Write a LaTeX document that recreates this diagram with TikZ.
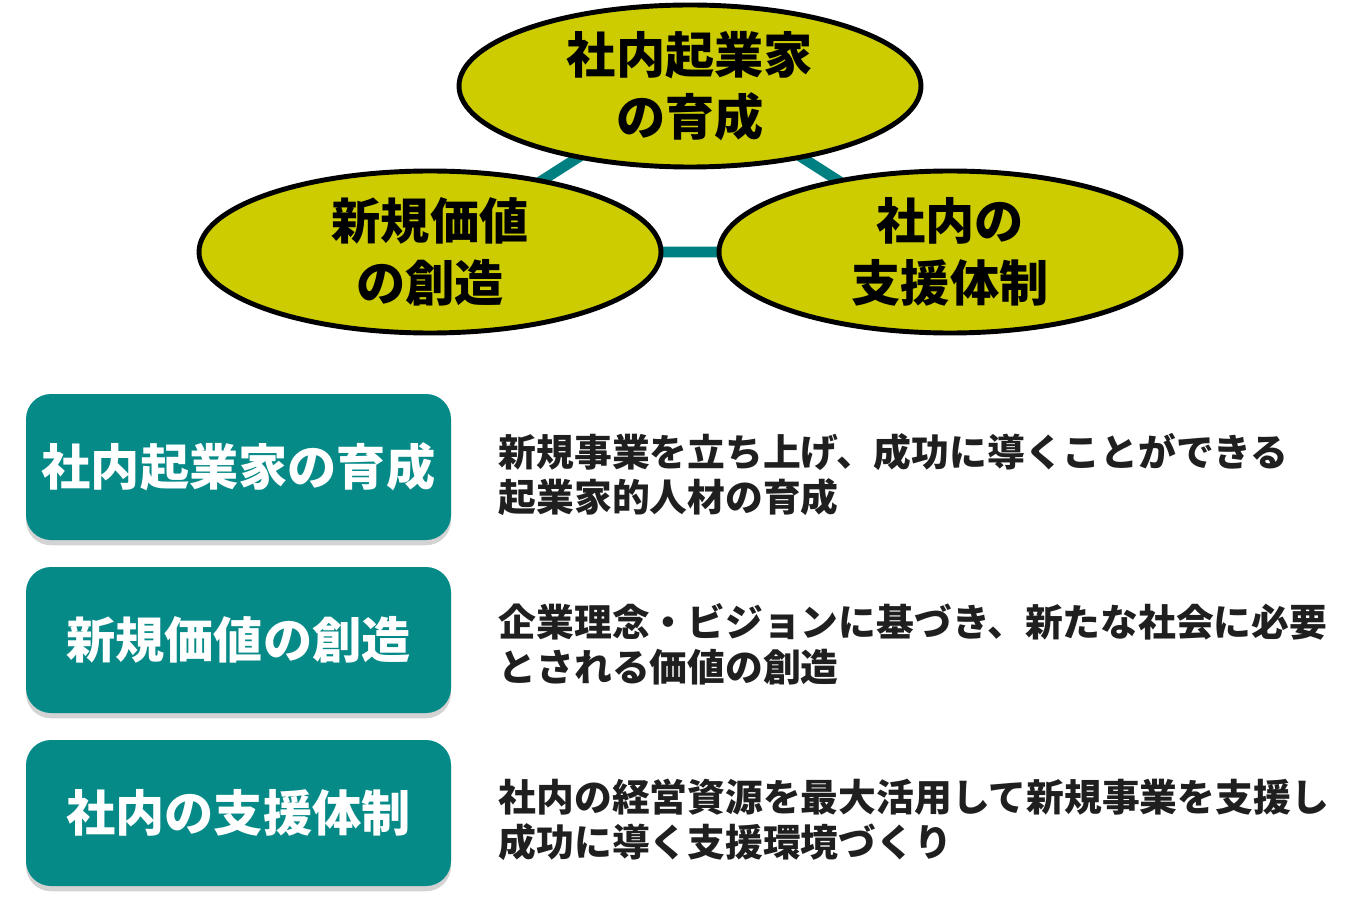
\documentclass[tikz,border=0pt]{standalone}
\usepackage{fontspec}
\setmainfont{Noto Sans CJK JP}
\usetikzlibrary{shapes.geometric,shadows,backgrounds}
\definecolor{olive}{HTML}{CCCC00}
\definecolor{tealbox}{HTML}{068A88}
\definecolor{tealline}{HTML}{008080}
\begin{document}
\begin{tikzpicture}[
  goal/.style={ellipse,draw=black,line width=2.8pt,fill=olive,minimum width=9.24cm,minimum height=3.24cm,inner sep=0pt,align=center,font=\fontsize{28}{35}\selectfont\bfseries},
  tag/.style={rounded corners=0.5cm,fill=tealbox,text=white,minimum width=8.5cm,minimum height=2.92cm,drop shadow={shadow xshift=0pt,shadow yshift=-3pt,opacity=0.35},font=\fontsize{28}{33}\selectfont\bfseries},
  desc/.style={anchor=west,align=left,text=black!88,font=\fontsize{21.5}{25.5}\selectfont\bfseries}
]
\useasboundingbox (0,0) rectangle (27.14,18);
%\draw[step=1cm,gray,very thin] (0,0) grid (27,18); %background grid
% three ellipses
\node[goal] (ikusei) at (13.8,16.28) {社内起業家\\の育成};
\node[goal] (souzou) at (8.6,12.96) {新規価値\\の創造};
\node[goal] (shien) at (19.0,12.96) {社内の\\支援体制};
\begin{scope}[on background layer]
\draw[tealline,line width=6pt] (ikusei.center) -- (souzou.center) -- (shien.center) -- cycle;
\end{scope}
% boxes
\node[tag] (ikuseibox) at (4.77,8.66) {社内起業家の育成};
\node[tag] (souzoubox) at (4.77,5.2) {新規価値の創造};
\node[tag] (shienbox) at (4.77,1.74) {社内の支援体制};
% descriptions
\node[desc] (ikuseitxt) at (9.85,8.51) {新規事業を立ち上げ、成功に導くことができる\\起業家的人材の育成};
\node[desc] (souzoutxt) at (9.85,5.11) {企業理念・ビジョンに基づき、新たな社会に必要\\とされる価値の創造};
\node[desc] (shientxt) at (9.85,1.61) {社内の経営資源を最大活用して新規事業を支援し\\成功に導く支援環境づくり};
\end{tikzpicture}
\end{document}
